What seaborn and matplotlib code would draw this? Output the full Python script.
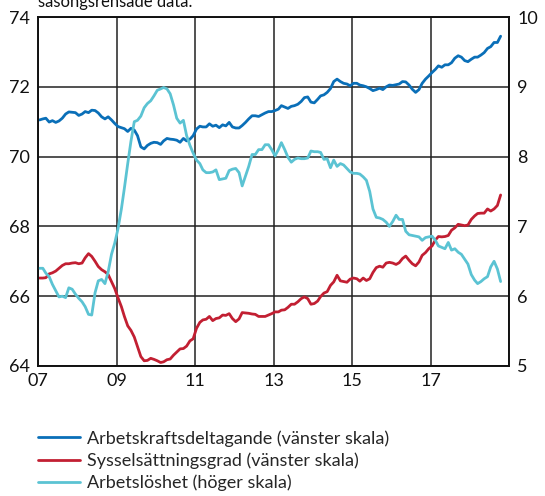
import numpy as np
import pandas as pd
import matplotlib
matplotlib.use('Agg')
import matplotlib.pyplot as plt
import seaborn as sns

# --- Monthly data, Jan 2007 - Oct 2018 ---
months = pd.date_range('2007-01-01', periods=142, freq='MS') + pd.Timedelta(days=14)

participation = [  # Arbetskraftsdeltagande, left scale
    71.05, 71.08, 71.10, 70.99, 71.03, 70.98, 71.02, 71.10, 71.22, 71.28, 71.27, 71.26,
    71.18, 71.22, 71.29, 71.26, 71.33, 71.32, 71.25, 71.14, 71.08, 71.14, 71.05, 70.95,
    70.86, 70.83, 70.80, 70.72, 70.81, 70.76, 70.60, 70.28, 70.22, 70.32, 70.38, 70.41,
    70.40, 70.35, 70.45, 70.52, 70.50, 70.49, 70.47, 70.41, 70.52, 70.45, 70.50, 70.60,
    70.79, 70.87, 70.85, 70.85, 70.94, 70.87, 70.90, 70.83, 70.91, 70.88, 70.98, 70.85,
    70.82, 70.82, 70.89, 70.98, 71.08, 71.17, 71.17, 71.15, 71.20, 71.25, 71.29, 71.29,
    71.32, 71.36, 71.46, 71.42, 71.38, 71.44, 71.46, 71.50, 71.58, 71.69, 71.71, 71.56,
    71.54, 71.64, 71.74, 71.77, 71.84, 71.95, 72.15, 72.22, 72.15, 72.10, 72.08, 72.03,
    72.10, 72.10, 72.05, 72.03, 72.00, 71.95, 71.89, 71.92, 71.96, 71.92, 72.00, 72.05,
    72.04, 72.06, 72.08, 72.15, 72.14, 72.05, 71.93, 71.84, 71.92, 72.10, 72.22, 72.31,
    72.41, 72.50, 72.60, 72.56, 72.63, 72.63, 72.69, 72.82, 72.89, 72.85, 72.75, 72.72,
    72.79, 72.85, 72.85, 72.91, 72.98, 73.10, 73.15, 73.27, 73.27, 73.45,
]

employment = [  # Sysselsättningsgrad, left scale
    66.52, 66.52, 66.53, 66.64, 66.67, 66.72, 66.80, 66.88, 66.93, 66.93, 66.95, 66.96,
    66.93, 66.95, 67.10, 67.22, 67.14, 67.00, 66.85, 66.76, 66.70, 66.62, 66.42, 66.22,
    65.95, 65.70, 65.42, 65.15, 65.02, 64.83, 64.55, 64.27, 64.15, 64.16, 64.22, 64.19,
    64.15, 64.10, 64.12, 64.18, 64.20, 64.31, 64.40, 64.49, 64.50, 64.57, 64.72, 64.78,
    65.08, 65.25, 65.32, 65.34, 65.42, 65.30, 65.36, 65.38, 65.46, 65.45, 65.50, 65.36,
    65.27, 65.35, 65.53, 65.52, 65.51, 65.49, 65.48, 65.42, 65.42, 65.42, 65.46, 65.50,
    65.55, 65.55, 65.60, 65.61, 65.68, 65.77, 65.77, 65.84, 65.93, 65.98, 65.93, 65.77,
    65.79, 65.86, 65.99, 66.09, 66.13, 66.31, 66.41, 66.60, 66.44, 66.42, 66.40, 66.49,
    66.52, 66.50, 66.43, 66.52, 66.45, 66.50, 66.68, 66.82, 66.86, 66.83, 66.95, 66.97,
    66.95, 66.91, 66.96, 67.08, 67.15, 67.03, 66.93, 66.87, 66.98, 67.17, 67.25, 67.36,
    67.44, 67.61, 67.71, 67.70, 67.71, 67.74, 67.89, 67.96, 68.06, 68.04, 68.02, 68.04,
    68.20, 68.30, 68.37, 68.38, 68.38, 68.50, 68.44, 68.50, 68.60, 68.90,
]

unemployment = [  # Arbetslöshet, right scale
    6.40, 6.40, 6.33, 6.28, 6.17, 6.08, 5.99, 6.00, 5.98, 6.12, 6.10, 6.03,
    5.97, 5.92, 5.85, 5.74, 5.73, 6.05, 6.22, 6.24, 6.18, 6.35, 6.60, 6.76,
    6.97, 7.25, 7.55, 7.90, 8.22, 8.50, 8.52, 8.58, 8.70, 8.76, 8.80, 8.87,
    8.95, 8.97, 8.99, 8.97, 8.90, 8.74, 8.55, 8.48, 8.52, 8.30, 8.16, 8.05,
    7.95, 7.90, 7.81, 7.77, 7.77, 7.78, 7.81, 7.67, 7.68, 7.69, 7.80, 7.82,
    7.83, 7.77, 7.58, 7.72, 7.86, 8.03, 8.03, 8.10, 8.10, 8.17, 8.17, 8.10,
    8.01, 8.10, 8.20, 8.10, 7.99, 7.92, 7.96, 7.98, 7.97, 7.97, 7.98, 8.08,
    8.07, 8.07, 8.06, 7.96, 7.97, 7.84, 7.95, 7.86, 7.90, 7.88, 7.83, 7.78,
    7.76, 7.76, 7.75, 7.71, 7.66, 7.50, 7.25, 7.13, 7.12, 7.10, 7.06, 7.00,
    7.07, 7.16, 7.10, 7.10, 6.93, 6.88, 6.87, 6.86, 6.85, 6.80, 6.84, 6.85,
    6.86, 6.80, 6.72, 6.70, 6.68, 6.77, 6.66, 6.68, 6.63, 6.60, 6.53, 6.46,
    6.31, 6.23, 6.18, 6.21, 6.25, 6.28, 6.42, 6.50, 6.39, 6.21,
]

series_labels = [
    'Arbetskraftsdeltagande (vänster skala)',
    'Sysselsättningsgrad (vänster skala)',
    'Arbetslöshet (höger skala)',
]
series_colors = ['#0A6FB8', '#C21F32', '#5BC3D3']

left_ticks = [64, 66, 68, 70, 72, 74]
right_ticks = [5, 6, 7, 8, 9, 10]
year_ticks = pd.to_datetime(['2007', '2009', '2011', '2013', '2015', '2017', '2019'])
year_labels = ['07', '09', '11', '13', '15', '17', '']

# --- Style ---
sns.set_style('white')
plt.rcParams['font.family'] = ['Lato', 'DejaVu Sans']

df = pd.DataFrame({'month': months, 'participation': participation,
                   'employment': employment, 'unemployment': unemployment})

fig = plt.figure(figsize=(5.45, 4.96), dpi=100)
ax = fig.add_axes([38 / 545, 1 - 366 / 496, 471 / 545, 349 / 496])
ax2 = ax.twinx()

lw = 2.0
sns.lineplot(data=df, x='month', y='participation', ax=ax, color=series_colors[0], linewidth=lw)
sns.lineplot(data=df, x='month', y='employment', ax=ax, color=series_colors[1], linewidth=lw)
sns.lineplot(data=df, x='month', y='unemployment', ax=ax2, color=series_colors[2], linewidth=lw)

ax.set_xlim(pd.Timestamp('2007-01-01'), pd.Timestamp('2019-01-01'))
ax.set_ylim(64, 74)
ax2.set_ylim(5, 10)
ax.set_yticks(left_ticks)
ax2.set_yticks(right_ticks)
ax.set_xticks(year_ticks)
ax.set_xticklabels(year_labels)
ax.set_xlabel('')
ax.set_ylabel('')
ax2.set_ylabel('')

ax.grid(True, axis='both', color='#222222', linewidth=1.1)
ax2.grid(False)
ax.set_axisbelow(True)

for a in (ax, ax2):
    for sp in a.spines.values():
        sp.set_visible(True)
        sp.set_color('#111111')
        sp.set_linewidth(1.2)

fs = 13
ax.tick_params(axis='y', labelsize=fs, length=0, pad=6, colors='#111111')
ax.tick_params(axis='x', labelsize=fs, length=0, pad=5, colors='#111111')
ax2.tick_params(axis='y', labelsize=fs, length=0, pad=6, colors='#111111')

# cut-off note at the top
fig.text(38 / 545, 0.995, 'säsongsrensade data.', fontsize=12, va='center', ha='left', color='#111111')

# --- Legend below the plot ---
handles = [plt.Line2D([], [], color=c, linewidth=lw) for c in series_colors]
fig.legend(handles, series_labels, loc='upper left', bbox_to_anchor=(22 / 545, 1 - 414 / 496),
           frameon=False, fontsize=13, handlelength=2.3, handletextpad=0.4, labelspacing=0.32)

fig.savefig('out.png', dpi=100)
